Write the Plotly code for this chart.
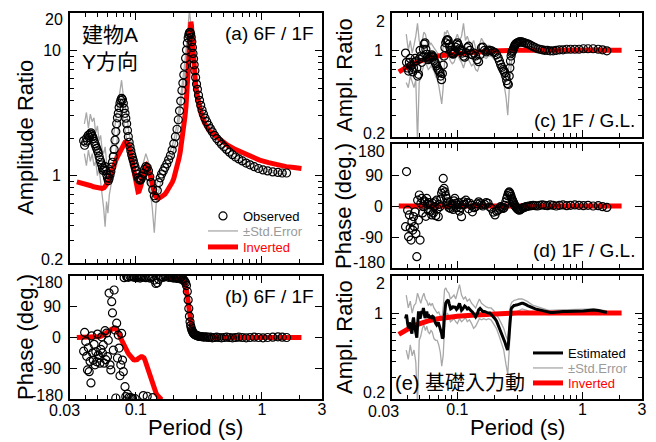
import math
import plotly.graph_objects as go

W, H = 656, 442
OFF = 8  # page body margin of the html page
FONT = "Liberation Sans, Arial, Noto Sans CJK JP, sans-serif"

# ---------------- observed / estimated (shared period sampling) ----------------
period_obs = [
    0.0385, 0.0392, 0.0400, 0.0407, 0.0413, 0.0419, 0.0426, 0.0433, 0.0440, 0.0446,
    0.0453, 0.0459, 0.0466, 0.0474, 0.0481, 0.0489, 0.0496, 0.0503, 0.0511, 0.0519,
    0.0527, 0.0535, 0.0543, 0.0551, 0.0560, 0.0569, 0.0577, 0.0586, 0.0595, 0.0604,
    0.0613, 0.0623, 0.0633, 0.0643, 0.0652, 0.0662, 0.0672, 0.0683, 0.0693, 0.0704,
    0.0714, 0.0725, 0.0736, 0.0748, 0.0759, 0.0771, 0.0783, 0.0795, 0.0807, 0.0820,
    0.0832, 0.0845, 0.0858, 0.0871, 0.0884, 0.0898,
    0.0912, 0.0926, 0.0940, 0.0954, 0.0969, 0.0985, 0.1002, 0.1020, 0.1040, 0.1060,
    0.1080, 0.1100, 0.1122, 0.1145, 0.1170, 0.1200, 0.1230, 0.1260, 0.1290, 0.1320,
    0.1360, 0.1400, 0.1440, 0.1480, 0.1520, 0.1560, 0.1600, 0.1650, 0.1700, 0.1760,
    0.1820, 0.1880, 0.1940, 0.2000, 0.2060,
    0.2120, 0.2170, 0.2220, 0.2270, 0.2320, 0.2360, 0.2400, 0.2440, 0.2480, 0.2520,
    0.2560, 0.2600, 0.2630, 0.2660, 0.2690, 0.2720, 0.2750, 0.2780, 0.2810, 0.2840,
    0.2870, 0.2900, 0.2940, 0.2980, 0.3030, 0.3080, 0.3140, 0.3200, 0.3270, 0.3350,
    0.3440, 0.3540, 0.3650, 0.3770, 0.3900, 0.4040, 0.4200, 0.4380, 0.4570, 0.4780,
    0.5000, 0.5250, 0.5530, 0.5840, 0.6180, 0.6560, 0.7000, 0.7500, 0.8050, 0.8700,
    0.9400, 1.0200, 1.1100, 1.2200, 1.3400, 1.4500, 1.5700,
]

amp_6f1f_obs = [
    1.90, 1.75, 1.85, 2.00, 1.90, 2.10, 2.02, 2.15, 2.20, 2.12,
    2.05, 1.98, 1.88, 1.80, 1.72, 1.65, 1.58, 1.52, 1.42, 1.34,
    1.28, 1.22, 1.15, 1.10, 1.14, 1.18, 1.10, 1.02, 0.96, 0.91,
    0.95, 1.01, 1.08, 1.17, 1.28, 1.42, 1.62, 1.92, 2.25, 2.60,
    2.90, 3.15, 3.50, 3.80, 4.00, 4.15, 4.05, 3.80, 3.45, 3.15,
    2.88, 2.60, 2.30, 2.05, 1.85, 1.70,
    1.58, 1.47, 1.39, 1.32, 1.24, 1.17, 1.10, 1.03, 0.96, 0.93,
    0.92, 0.94, 0.99, 1.04, 1.12, 1.18, 1.16, 1.09, 0.98, 0.88,
    0.77, 0.69, 0.66, 0.76, 0.88, 0.96, 1.03, 1.09, 1.16, 1.24,
    1.34, 1.45, 1.60, 1.80, 2.05,
    2.35, 2.80, 3.30, 3.95, 4.80, 5.50, 6.40, 7.50, 8.70, 10.1,
    11.5, 12.6, 13.4, 13.9, 14.0, 13.6, 12.8, 11.8, 10.6, 9.5,
    8.6, 7.7, 6.9, 6.1, 5.4, 4.9, 4.4, 4.0, 3.65, 3.35,
    3.10, 2.88, 2.70, 2.53, 2.38, 2.24, 2.10, 1.98, 1.88, 1.78,
    1.70, 1.62, 1.54, 1.47, 1.41, 1.36, 1.31, 1.26, 1.22, 1.18,
    1.14, 1.11, 1.09, 1.07, 1.06, 1.05, 1.05,
]

phase_6f1f_obs = [
    -40, 15, -12, -55, -95, -30, -100, -70, -133, 5,
    -45, -66, -20, -80, -42, -71, 10, -51, -60, -75,
    -35, 2, -45, -22, -75, 20, -65, 13, -56, -8,
    130, -80, -95, 105, 72, -37, 139, 22, -177, 42,
    -60, 7, -31, -112, -80, 12, -66, -100, 175, -144,
    -173, 178, -166, 176, -175, 179,
    -176, 178, -178, 179, 176, -179, 178, 175, 179, 177,
    174, 178, 176, -170, 177, 175, -172, 176, 174, 178,
    -176, 168, 158, 160, 170, 177, 179, 176, 178, 180,
    176, 177, 175, 174, 176,
    173, 175, 172, 174, 170, 171, 168, 165, 160, 152,
    135, 110, 85, 62, 46, 35, 28, 22, 18, 15,
    12, 10, 8, 7, 6, 5, 4, 3, 3, 2,
    2, 1, 2, 0, 1, -1, 0, 1, 0, -1,
    0, 1, 0, -1, 0, 1, 0, -1, 0, 1,
    0, -1, 0, 1, 2, 1, 0,
]

amp_1fgl_obs = [
    0.95, 0.80, 0.72, 0.68, 0.80, 0.86, 0.75, 0.70, 0.67, 0.72,
    0.80, 0.86, 0.82, 0.72, 0.62, 0.64, 0.85, 1.00, 0.90, 0.80,
    0.88, 1.02, 1.12, 1.15, 1.02, 0.93, 0.88, 0.84, 0.86, 0.88,
    0.90, 0.92, 0.90, 0.88, 0.83, 0.80, 0.78, 0.75, 0.72, 0.70,
    0.68, 0.66, 0.62, 0.58, 0.65, 0.76, 0.90, 1.05, 1.15, 1.20,
    1.22, 1.20, 1.12, 1.06, 1.00, 0.96,
    0.94, 0.93, 0.95, 0.98, 1.06, 1.12, 1.15, 1.10, 1.03, 0.99,
    1.00, 0.95, 0.90, 0.88, 0.96, 1.05, 1.08, 1.00, 0.93, 0.92,
    0.95, 0.90, 0.84, 0.81, 0.92, 1.05, 1.06, 1.00, 0.97, 0.99,
    1.00, 0.99, 0.97, 0.96, 0.92,
    0.87, 0.82, 0.77, 0.73, 0.70, 0.68, 0.66, 0.62, 0.57, 0.54,
    0.53, 0.62, 0.72, 0.82, 0.90, 0.95, 0.98, 1.00, 1.03, 1.06,
    1.09, 1.11, 1.13, 1.14, 1.15, 1.16, 1.17, 1.17, 1.17, 1.16,
    1.15, 1.14, 1.13, 1.11, 1.09, 1.07, 1.05, 1.03, 1.02, 1.01,
    1.00, 1.00, 0.99, 0.99, 1.00, 1.01, 1.01, 1.02, 1.02, 1.02,
    1.02, 1.03, 1.03, 1.03, 1.02, 1.01, 0.99,
]

phase_1fgl_obs = [
    -60, 100, -12, -89, -26, -64, -99, -45, -70, -31,
    -60, -17, -80, -147, 17, -41, 32, -99, 8, 22,
    -20, -2, 15, 12, -30, 22, 5, -12, 10, 3,
    -15, -26, 8, -20, -2, 12, -28, 17, -8, -31,
    5, -2, 20, 37, 45, 80, 51, 41, 30, 22,
    12, 3, -5, 10, -7, 0,
    5, -10, 15, 22, 8, -5, 3, 10, -15, -5,
    -31, 3, 12, 5, 17, 10, -8, 8, 2, -17,
    -5, -2, 6, 12, 8, 3, 0, 5, 10, 8,
    -3, -7, -18, -26, -15,
    -12, -6, -2, -4, -7, -5, 2, 12, 22, 30,
    38, 41, 38, 33, 28, 22, 18, 14, 10, 6,
    3, 0, -3, -6, -9, -11, -12, -10, -8, -5,
    -4, -2, -1, 0, 1, 2, 1, 0, 2, 3,
    2, 1, 3, 2, 0, 2, 3, 1, 2, 3,
    2, 1, 2, 0, 1, -2, -4,
]

amp_input_est = [
    0.90, 0.97, 0.82, 0.75, 0.84, 0.80, 0.72, 0.68, 0.86, 0.92,
    0.80, 0.73, 0.68, 0.63, 0.80, 1.03, 0.95, 0.90, 0.96, 1.04,
    1.00, 1.10, 1.00, 0.91, 0.98, 1.03, 0.96, 0.92, 0.94, 0.91,
    0.95, 0.92, 0.94, 0.93, 0.88, 0.84, 0.82, 0.80, 0.83, 0.84,
    0.80, 0.76, 0.71, 0.68, 0.62, 0.64, 0.90, 1.10, 1.20, 1.24,
    1.27, 1.28, 1.20, 1.12, 1.08, 1.09,
    1.12, 1.14, 1.10, 1.13, 1.10, 1.07, 1.09, 1.15, 1.20, 1.12,
    1.05, 1.07, 1.10, 1.14, 1.12, 1.08, 1.10, 1.06, 1.04, 1.02,
    0.96, 0.93, 0.98, 1.06, 1.09, 1.05, 1.03, 1.03, 1.01, 1.00,
    1.00, 0.97, 0.93, 0.90, 0.86,
    0.80, 0.76, 0.72, 0.69, 0.65, 0.61, 0.58, 0.55, 0.51, 0.50,
    0.56, 0.72, 0.90, 1.02, 1.07, 1.10, 1.12, 1.13, 1.14, 1.15,
    1.15, 1.16, 1.16, 1.16, 1.17, 1.17, 1.18, 1.19, 1.20, 1.20,
    1.19, 1.17, 1.15, 1.13, 1.11, 1.09, 1.08, 1.07, 1.06, 1.05,
    1.03, 1.02, 1.01, 1.01, 1.02, 1.03, 1.03, 1.03, 1.03, 1.04,
    1.04, 1.04, 1.05, 1.06, 1.05, 1.03, 1.01,
]

# ---------------- standard-error bands ----------------
period_se = [
    0.0390, 0.0405, 0.0420, 0.0435, 0.0450, 0.0465, 0.0480, 0.0495, 0.0510, 0.0525,
    0.0540, 0.0555, 0.0570, 0.0585, 0.0600, 0.0615, 0.0630, 0.0650, 0.0670, 0.0690,
    0.0710, 0.0730, 0.0750, 0.0770, 0.0790, 0.0810, 0.0830, 0.0855, 0.0880, 0.0910,
    0.0940, 0.0970, 0.1000, 0.1040, 0.1080, 0.1120, 0.1160, 0.1200, 0.1250, 0.1300,
    0.1350, 0.1400, 0.1450, 0.1500, 0.1560, 0.1630, 0.1700, 0.1780, 0.1860, 0.1950,
    0.2050, 0.2150, 0.2250, 0.2350, 0.2450, 0.2530, 0.2600, 0.2660, 0.2720, 0.2780,
    0.2850, 0.2950, 0.3100, 0.3300, 0.3600, 0.4000, 0.4600, 0.5400, 0.6500, 0.8000,
    1.0000, 1.2500, 1.5700,
]

amp_6f1f_upper = [
    2.6, 3.2, 2.4, 3.1, 2.7, 2.9, 2.2, 2.5, 1.9, 2.1,
    1.6, 1.5, 1.7, 1.3, 1.2, 1.4, 1.5, 1.8, 2.2, 2.8,
    3.3, 4.0, 4.9, 5.8, 4.6, 4.0, 3.4, 2.9, 2.2, 1.9,
    1.6, 1.4, 1.25, 1.08, 1.02, 1.15, 1.35, 1.5, 1.32, 1.12,
    0.95, 0.80, 0.84, 0.95, 1.05, 1.18, 1.25, 1.35, 1.55, 1.75,
    2.15, 2.8, 4.0, 5.6, 8.2, 11.5, 15.0, 21.0, 17.0, 13.0,
    9.8, 7.2, 4.9, 3.6, 2.85, 2.4, 1.95, 1.65, 1.42, 1.26,
    1.15, 1.09, 1.07,
]
amp_6f1f_lower = [
    1.5, 1.2, 1.6, 1.3, 1.5, 1.2, 1.3, 1.0, 1.15, 0.9,
    0.75, 0.55, 0.39, 0.62, 0.5, 0.7, 0.8, 0.95, 1.2, 1.5,
    2.0, 2.4, 2.8, 3.1, 2.9, 2.5, 2.1, 1.7, 1.45, 1.25,
    1.1, 0.98, 0.9, 0.78, 0.8, 0.85, 0.9, 0.95, 0.88, 0.75,
    0.55, 0.35, 0.6, 0.7, 0.85, 0.95, 1.05, 1.15, 1.3, 1.45,
    1.8, 2.3, 3.3, 4.8, 7.0, 9.5, 11.5, 12.5, 12.0, 10.5,
    8.5, 6.4, 4.5, 3.3, 2.6, 2.15, 1.78, 1.5, 1.33, 1.18,
    1.1, 1.05, 1.03,
]
amp_1fgl_upper = [
    1.35, 1.0, 1.2, 0.95, 1.1, 1.3, 1.65, 1.2, 1.05, 1.25,
    1.4, 1.35, 1.15, 1.05, 1.1, 1.15, 1.1, 1.05, 0.98, 0.95,
    0.9, 0.88, 0.82, 1.05, 1.41, 1.35, 1.45, 1.35, 1.2, 1.1,
    1.15, 1.25, 1.35, 1.2, 1.3, 1.65, 1.2, 1.3, 1.15, 1.1,
    1.2, 1.05, 0.95, 1.1, 1.25, 1.15, 1.08, 1.1, 1.08, 1.05,
    1.0, 0.92, 0.85, 0.78, 0.7, 0.62, 0.78, 0.95, 1.1, 1.15,
    1.2, 1.24, 1.26, 1.25, 1.2, 1.12, 1.06, 1.03, 1.03, 1.04,
    1.05, 1.05, 1.02,
]
amp_1fgl_lower = [
    0.55, 0.5, 0.62, 0.55, 0.5, 0.58, 0.18, 0.55, 0.62, 0.7,
    0.8, 0.85, 0.75, 0.7, 0.72, 0.75, 0.72, 0.68, 0.62, 0.58,
    0.52, 0.45, 0.37, 0.5, 0.8, 0.95, 1.0, 0.9, 0.82, 0.78,
    0.8, 0.88, 0.92, 0.85, 0.8, 0.72, 0.82, 0.88, 0.82, 0.75,
    0.78, 0.7, 0.68, 0.75, 0.88, 0.88, 0.86, 0.9, 0.9, 0.86,
    0.8, 0.72, 0.62, 0.55, 0.42, 0.3, 0.48, 0.7, 0.85, 0.92,
    0.98, 1.02, 1.06, 1.08, 1.06, 1.01, 0.97, 0.96, 0.97, 0.99,
    1.0, 1.0, 0.97,
]
amp_input_upper = [
    1.4, 1.1, 1.25, 1.0, 1.15, 1.2, 1.45, 1.3, 1.2, 1.35,
    1.45, 1.3, 1.25, 1.15, 1.2, 1.15, 1.2, 1.1, 1.05, 1.0,
    1.02, 0.95, 0.88, 1.1, 1.55, 1.6, 1.5, 1.45, 1.3, 1.35,
    1.4, 1.3, 1.45, 1.7, 1.4, 1.3, 1.35, 1.25, 1.3, 1.2,
    1.15, 1.1, 1.2, 1.3, 1.2, 1.15, 1.12, 1.1, 1.1, 1.05,
    0.98, 0.9, 0.82, 0.75, 0.65, 0.6, 0.85, 1.15, 1.22, 1.25,
    1.27, 1.28, 1.3, 1.3, 1.25, 1.16, 1.1, 1.05, 1.06, 1.07,
    1.08, 1.08, 1.04,
]
amp_input_lower = [
    0.5, 0.42, 0.55, 0.45, 0.5, 0.4, 0.18, 0.6, 0.65, 0.75,
    0.8, 0.72, 0.78, 0.7, 0.68, 0.72, 0.7, 0.62, 0.6, 0.6,
    0.55, 0.48, 0.37, 0.45, 0.75, 0.95, 1.0, 0.95, 0.85, 0.88,
    0.9, 0.85, 0.82, 0.9, 0.85, 0.88, 0.92, 0.85, 0.88, 0.82,
    0.75, 0.78, 0.85, 0.9, 0.88, 0.9, 0.88, 0.9, 0.88, 0.82,
    0.75, 0.66, 0.58, 0.5, 0.38, 0.32, 0.5, 0.85, 0.95, 0.98,
    1.0, 1.02, 1.05, 1.08, 1.05, 1.0, 0.98, 0.97, 0.98, 0.99,
    1.0, 1.01, 0.98,
]

# ---------------- inverted (model) curves ----------------
period_inv = [
    0.034, 0.036, 0.038, 0.040, 0.042, 0.044, 0.046, 0.048, 0.050, 0.052,
    0.054, 0.056, 0.058, 0.060, 0.062, 0.064, 0.066, 0.068, 0.070, 0.072,
    0.074, 0.076, 0.078, 0.080, 0.082, 0.084, 0.086, 0.088, 0.090, 0.092,
    0.094, 0.096, 0.098, 0.100, 0.102, 0.104, 0.106, 0.108, 0.110, 0.112,
    0.114, 0.116, 0.118, 0.120, 0.122, 0.124, 0.126, 0.128, 0.130, 0.132,
    0.134, 0.136, 0.138, 0.140, 0.142, 0.145, 0.148, 0.151, 0.155, 0.160,
    0.165, 0.170, 0.175, 0.180, 0.185, 0.190, 0.195, 0.200, 0.205, 0.210,
    0.215, 0.220, 0.225, 0.230, 0.235, 0.240, 0.245, 0.250, 0.254, 0.258,
    0.261, 0.264, 0.267, 0.270, 0.273, 0.276, 0.279, 0.283, 0.287, 0.292,
    0.298, 0.305, 0.315, 0.330, 0.350, 0.380, 0.420, 0.470, 0.530, 0.600,
    0.700, 0.820, 0.960, 1.130, 1.330, 1.560, 1.800, 2.060,
]
amp_6f1f_inv = [
    0.89, 0.88, 0.87, 0.86, 0.85, 0.83, 0.815, 0.805, 0.795, 0.79,
    0.79, 0.80, 0.83, 0.88, 0.96, 1.07, 1.17, 1.27, 1.36, 1.44,
    1.53, 1.62, 1.71, 1.79, 1.85, 1.87, 1.83, 1.72, 1.58, 1.42,
    1.27, 1.12, 0.98, 0.87, 0.79, 0.745, 0.75, 0.78, 0.84, 0.92,
    1.00, 1.07, 1.14, 1.19, 1.22, 1.20, 1.14, 1.06, 0.98, 0.90,
    0.83, 0.78, 0.74, 0.71, 0.69, 0.675, 0.665, 0.66, 0.665, 0.675,
    0.69, 0.71, 0.74, 0.77, 0.81, 0.85, 0.89, 0.95, 1.03, 1.12,
    1.24, 1.38, 1.55, 1.78, 2.05, 2.45, 2.95, 3.6, 4.4, 5.6,
    7.0, 9.0, 12.0, 15.5, 17.0, 16.0, 13.5, 10.6, 8.5, 6.7,
    5.4, 4.5, 3.7, 3.1, 2.65, 2.3, 2.12, 1.92, 1.76, 1.64,
    1.52, 1.42, 1.33, 1.27, 1.22, 1.18, 1.16, 1.14,
]
phase_6f1f_inv = [
    0, 0, 0, 0, 0, 0, 0, 1, 2, 3,
    5, 8, 12, 16, 20, 24, 27, 27, 24, 18,
    8, -3, -13, -21, -28, -36, -43, -49, -54, -59,
    -63, -65, -66, -66, -65, -62, -59, -57, -56, -56,
    -57, -60, -66, -74, -83, -93, -103, -112, -121, -130,
    -137, -143, -149, -154, -158, -164, -169, -173, -177, -182,
    None, 177, 176, 175, 175, 175, 174, 174, 173, 173,
    172, 172, 171, 170, 167, 163, 156, 145, 130, 108,
    88, 70, 55, 43, 34, 28, 23, 19, 15, 12,
    9, 7, 5, 3, 2, 1, 0, 0, 0, 0,
    0, 0, 0, 0, 0, 0, 0, 0,
]

period_inv_gl = [0.034, 0.038, 0.042, 0.047, 0.053, 0.060, 0.070, 0.080,
                 0.100, 0.130, 0.170, 0.220, 0.300, 0.500, 1.000, 2.060]
amp_1fgl_inv = [0.67, 0.72, 0.76, 0.80, 0.84, 0.87, 0.90, 0.92,
                0.94, 0.96, 0.98, 0.99, 1.00, 1.00, 1.00, 1.00]
phase_1fgl_inv = [0, 0, 0, 0, 0, 0, 0, 0, 0, 0, 0, 0, 0, 0, 0, 0]

# ---------------- ticks ----------------
x_ticks = [0.03, 0.1, 1, 3]
x_tick_labels = ["0.03", "0.1", "1", "3"]
x_minor = [0.04, 0.05, 0.06, 0.07, 0.08, 0.09, 0.2, 0.3, 0.4, 0.5, 0.6, 0.7, 0.8, 0.9, 2]
amp_a_ticks = [0.2, 1, 10, 20]
amp_a_labels = ["0.2", "1", "10", "20"]
amp_a_minor = [0.3, 0.4, 0.5, 0.6, 0.7, 0.8, 0.9, 2, 3, 4, 5, 6, 7, 8, 9]
amp_ce_ticks = [0.2, 1, 2]
amp_ce_labels = ["0.2", "1", "2"]
amp_ce_minor = [0.3, 0.4, 0.5, 0.6, 0.7, 0.8, 0.9]
phase_ticks = [-180, -90, 0, 90, 180]
phase_labels = ["-180", "-90", "0", "90", "180"]

for name, arr in [("a", amp_6f1f_obs), ("b", phase_6f1f_obs), ("c", amp_1fgl_obs),
                  ("d", phase_1fgl_obs), ("e", amp_input_est)]:
    assert len(arr) == len(period_obs), (name, len(arr), len(period_obs))
for name, arr in [("au", amp_6f1f_upper), ("al", amp_6f1f_lower), ("cu", amp_1fgl_upper),
                  ("cl", amp_1fgl_lower), ("eu", amp_input_upper), ("el", amp_input_lower)]:
    assert len(arr) == len(period_se), (name, len(arr), len(period_se))
assert len(amp_6f1f_inv) == len(period_inv) == len(phase_6f1f_inv)

RED = "#ff0000"
GRAY = "#a8a8a8"


def px_x(p):
    return (p - OFF) / W


def px_y(p):
    return 1 - (p - OFF) / H


fig = go.Figure()

se_x = period_se + [None] + period_se


def add_panel_traces(n, obs_y=None, obs_line=None, upper=None, lower=None,
                     inv_x=None, inv_y=None, legends=None):
    xa, ya = "x%d" % n, "y%d" % n
    legends = legends or {}
    if upper is not None:
        fig.add_trace(go.Scatter(
            x=se_x, y=upper + [None] + lower, xaxis=xa, yaxis=ya, mode="lines",
            line=dict(color=GRAY, width=1.3), name="±Std.Error",
            showlegend="se" in legends, legend=legends.get("se", "legend")))
    fig.add_trace(go.Scatter(
        x=inv_x, y=inv_y, xaxis=xa, yaxis=ya, mode="lines",
        line=dict(color=RED, width=5), name="Inverted",
        showlegend="inv" in legends, legend=legends.get("inv", "legend")))
    if obs_y is not None:
        fig.add_trace(go.Scatter(
            x=period_obs, y=obs_y, xaxis=xa, yaxis=ya, mode="markers",
            marker=dict(symbol="circle-open", size=8, color="black", line=dict(width=1.2)),
            name="Observed", showlegend="obs" in legends, legend=legends.get("obs", "legend")))
    if obs_line is not None:
        fig.add_trace(go.Scatter(
            x=period_obs, y=obs_line, xaxis=xa, yaxis=ya, mode="lines",
            line=dict(color="black", width=3), name="Estimated",
            showlegend="est" in legends, legend=legends.get("est", "legend")))


add_panel_traces(1, obs_y=amp_6f1f_obs, upper=amp_6f1f_upper, lower=amp_6f1f_lower,
                 inv_x=period_inv, inv_y=amp_6f1f_inv,
                 legends={"obs": "legend", "se": "legend2", "inv": "legend3"})
add_panel_traces(2, obs_y=phase_6f1f_obs, inv_x=period_inv, inv_y=phase_6f1f_inv)
add_panel_traces(3, obs_y=amp_1fgl_obs, upper=amp_1fgl_upper, lower=amp_1fgl_lower,
                 inv_x=period_inv_gl, inv_y=amp_1fgl_inv)
add_panel_traces(4, obs_y=phase_1fgl_obs, inv_x=period_inv_gl, inv_y=phase_1fgl_inv)
add_panel_traces(5, obs_line=amp_input_est, upper=amp_input_upper, lower=amp_input_lower,
                 inv_x=period_inv_gl, inv_y=amp_1fgl_inv,
                 legends={"est": "legend4", "se": "legend5", "inv": "legend6"})

LEFT = [px_x(70), px_x(322)]
RIGHT = [px_x(392), px_x(642)]


def blank_ends(labels):
    # outermost labels are drawn as separate texts, nudged inward like the original
    return [""] + labels[1:-1] + [""]


def common():
    return dict(showline=True, linecolor="black", linewidth=1.7, mirror="allticks",
                ticks="inside", ticklen=7, tickwidth=1.3, tickcolor="black",
                showgrid=False, zeroline=False, automargin=False,
                tickfont=dict(size=16, color="black", family=FONT))


def xaxis(dom, anchor, labels):
    d = common()
    d.update(type="log", range=[math.log10(0.03), math.log10(3)], domain=dom, anchor=anchor,
             tickmode="array", tickvals=x_ticks, ticktext=[""] + x_tick_labels[1:],
             showticklabels=labels, ticklabelstandoff=-5,
             minor=dict(tickmode="array", tickvals=x_minor, ticks="inside", ticklen=4,
                        tickwidth=1.1, tickcolor="black"))
    return d


def yaxis_amp(dom, anchor, top, tv, tt, minor):
    d = common()
    d.update(type="log", range=[math.log10(0.2), math.log10(top)], domain=dom, anchor=anchor,
             tickmode="array", tickvals=tv, ticktext=blank_ends(tt), ticklabelstandoff=4,
             minor=dict(tickmode="array", tickvals=minor, ticks="inside", ticklen=4,
                        tickwidth=1.1, tickcolor="black"))
    return d


def yaxis_phase(dom, anchor):
    d = common()
    d.update(range=[-180, 180], domain=dom, anchor=anchor, tickmode="array",
             tickvals=phase_ticks, ticktext=blank_ends(phase_labels), ticklabelstandoff=4)
    return d


dom_a = [px_y(263), px_y(13)]
dom_b = [px_y(399), px_y(276)]
dom_c = [px_y(137), px_y(13)]
dom_d = [px_y(268), px_y(144)]
dom_e = [px_y(399), px_y(276)]

annotations = []


def ann(text, x, y, size, xanchor="center", yanchor="middle", angle=0, color="black", align="left"):
    annotations.append(dict(text=text, x=px_x(x), y=px_y(y), xref="paper", yref="paper",
                            xanchor=xanchor, yanchor=yanchor, textangle=angle, showarrow=False,
                            align=align, borderpad=0,
                            font=dict(size=size, color=color, family=FONT)))


ann("建物A<br>Y方向", 81, 48, 21, xanchor="left")
ann("(a) 6F / 1F", 315, 33, 19, xanchor="right")
ann("(b) 6F / 1F", 315, 296, 19, xanchor="right")
ann("(c) 1F / G.L.", 636, 120, 19, xanchor="right")
ann("(d) 1F / G.L.", 636, 250, 19, xanchor="right")
ann("(e) 基礎入力動", 394, 383, 20, xanchor="left")
ann("Amplitude Ratio", 25, 138, 22, angle=-90)
ann("Phase (deg.)", 25, 337, 22, angle=-90)
ann("Ampl. Ratio", 344, 75, 22, angle=-90)
ann("Phase (deg.)", 344, 206, 22, angle=-90)
ann("Ampl. Ratio", 344, 337, 22, angle=-90)
ann("Period (s)", 196, 427, 22)
ann("Period (s)", 517, 427, 22)

# outer tick labels (nudged inward, as in the original figure)
ann(amp_a_labels[-1], 64, 19, 16, xanchor="right")
ann(amp_a_labels[0], 64, 259, 16, xanchor="right")
ann(phase_labels[-1], 64, 282, 16, xanchor="right")
ann(phase_labels[0], 64, 395, 16, xanchor="right")
ann(amp_ce_labels[-1], 386, 21, 16, xanchor="right")
ann(amp_ce_labels[0], 386, 133, 16, xanchor="right")
ann(phase_labels[-1], 386, 152, 16, xanchor="right")
ann(phase_labels[0], 386, 263, 16, xanchor="right")
ann(amp_ce_labels[-1], 386, 283, 16, xanchor="right")
ann(amp_ce_labels[0], 386, 392, 16, xanchor="right")
ann(x_tick_labels[0], 64, 410, 16)
ann(x_tick_labels[0], 383, 411, 16)


def leg(x_text, y_center, color):
    return dict(x=px_x(x_text - 40), y=px_y(y_center), xanchor="left", yanchor="middle",
                bgcolor="rgba(0,0,0,0)", borderwidth=0, itemwidth=30, tracegroupgap=0,
                font=dict(size=13, color=color, family=FONT))


fig.update_layout(
    width=W, height=H, autosize=False,
    margin=dict(l=0, r=0, t=0, b=0, pad=0),
    paper_bgcolor="white", plot_bgcolor="white",
    font=dict(family=FONT, color="black"),
    showlegend=True,
    xaxis=xaxis(LEFT, "y", False), yaxis=yaxis_amp(dom_a, "x", 20, amp_a_ticks, amp_a_labels, amp_a_minor),
    xaxis2=xaxis(LEFT, "y2", True), yaxis2=yaxis_phase(dom_b, "x2"),
    xaxis3=xaxis(RIGHT, "y3", False), yaxis3=yaxis_amp(dom_c, "x3", 2, amp_ce_ticks, amp_ce_labels, amp_ce_minor),
    xaxis4=xaxis(RIGHT, "y4", False), yaxis4=yaxis_phase(dom_d, "x4"),
    xaxis5=xaxis(RIGHT, "y5", True), yaxis5=yaxis_amp(dom_e, "x5", 2, amp_ce_ticks, amp_ce_labels, amp_ce_minor),
    legend=leg(243, 216, "black"),
    legend2=leg(243, 231, "#9a9a9a"),
    legend3=leg(243, 247, RED),
    legend4=leg(568, 353, "black"),
    legend5=leg(568, 368, "#9a9a9a"),
    legend6=leg(568, 383, RED),
    annotations=annotations,
)

fig.write_html("out.html")
